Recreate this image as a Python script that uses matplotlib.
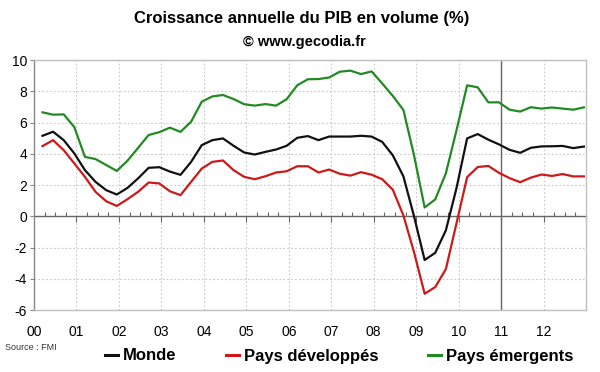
import matplotlib
matplotlib.use("Agg")
import matplotlib.pyplot as plt
from matplotlib.lines import Line2D
import numpy as np

plt.rcParams['font.family'] = ['Liberation Sans', 'DejaVu Sans']

# Quarterly data, 2000Q1 .. 2012Q4
years = list(range(2000, 2013))
year_labels = ["00", "01", "02", "03", "04", "05", "06", "07", "08", "09", "10", "11", "12"]

monde = [5.15, 5.41, 4.87, 4.02, 2.95, 2.2, 1.67, 1.39, 1.81, 2.42, 3.1, 3.14,
         2.86, 2.65, 3.48, 4.55, 4.87, 4.98, 4.51, 4.08, 3.95, 4.12, 4.27, 4.51,
         5.02, 5.13, 4.87, 5.1, 5.1, 5.1, 5.15, 5.1, 4.76, 3.9, 2.55, 0.0,
         -2.8, -2.34, -0.9, 1.8, 4.98, 5.26, 4.9, 4.6, 4.25, 4.06, 4.38, 4.47,
         4.48, 4.5, 4.36, 4.46]
developpes = [4.49, 4.87, 4.23, 3.38, 2.52, 1.56, 0.96, 0.66, 1.09, 1.56, 2.16, 2.1,
              1.6, 1.35, 2.2, 3.05, 3.48, 3.57, 2.95, 2.52, 2.37, 2.56, 2.8, 2.88,
              3.2, 3.2, 2.8, 2.99, 2.72, 2.6, 2.82, 2.66, 2.37, 1.7, 0.05, -2.3,
              -4.96, -4.53, -3.38, -0.45, 2.5, 3.15, 3.22, 2.78, 2.44, 2.18, 2.47, 2.67,
              2.58, 2.7, 2.55, 2.55]
emergents = [6.65, 6.5, 6.52, 5.7, 3.8, 3.66, 3.28, 2.9, 3.55, 4.37, 5.2, 5.38,
             5.67, 5.4, 6.05, 7.33, 7.67, 7.76, 7.5, 7.17, 7.08, 7.18, 7.08, 7.49,
             8.38, 8.77, 8.78, 8.88, 9.25, 9.32, 9.1, 9.27, 8.5, 7.7, 6.8, 3.9,
             0.56, 1.08, 2.75, 5.5, 8.38, 8.25, 7.29, 7.29, 6.82, 6.7, 6.98, 6.89,
             6.96, 6.89, 6.82, 6.97]

n = len(monde)
x = 2000 + 0.25 * (np.arange(n) + 1) - 0.05

fig = plt.figure(figsize=(6.0, 3.72), dpi=100)
ax = fig.add_axes([34/600, 1 - 310/372, (586-34)/600, (310-60)/372])

ax.set_xlim(2000, 2013)
ax.set_ylim(-6, 10)

# grid
for yv in range(-6, 11, 2):
    ax.axhline(yv, color='#c8c8c8', lw=0.8, ls=(0, (1.5, 2)), zorder=0)
for yr in years[1:]:
    ax.axvline(yr, color='#c8c8c8', lw=0.8, ls=(0, (1.5, 2)), zorder=0)
ax.axvline(2011, color='#666666', lw=1.0, zorder=1)

c_m, c_d, c_e = '#111111', '#cc1a1a', '#228a22'
ax.plot(x, emergents, color=c_e, lw=1.6, zorder=3)
ax.plot(x, monde, color=c_m, lw=1.6, zorder=3)
ax.plot(x, developpes, color=c_d, lw=1.6, zorder=3)

for s in ['top', 'right', 'bottom']:
    ax.spines[s].set_color('#c0c0c0')
    ax.spines[s].set_linewidth(1.0)
ax.spines['left'].set_color('#888888')
ax.spines['left'].set_linewidth(1.0)

ax.set_yticks(range(-6, 11, 2))
ax.set_yticklabels([str(v) for v in range(-6, 11, 2)])
ax.tick_params(axis='y', length=3, width=0.8, color='#888888', pad=2, labelsize=10)

ax.set_xticks(years)
ax.set_xticklabels(year_labels)
ax.tick_params(axis='x', length=0, pad=11, labelsize=10)

# zero axis with year and quarter ticks
sec = ax.secondary_xaxis(6/16)
sec.set_xticks(years[1:] + [2013])
sec.set_xticklabels([])
sec.set_xticks(np.arange(2000.25, 2013, 0.25), minor=True)
sec.tick_params(axis='x', which='major', direction='out', length=4, width=0.8, color='#666666')
sec.tick_params(axis='x', which='minor', direction='in', length=3, width=0.8, color='#666666')
sec.spines['bottom'].set_color('#666666')
sec.spines['bottom'].set_linewidth(1.0)

fig.text(0.502, 1 - 18/372, "Croissance annuelle du PIB en volume (%)", ha='center', va='center',
         fontsize=12, fontweight='bold')
fig.text(0.507, 1 - 42/372, "\u00a9 www.gecodia.fr", ha='center', va='center',
         fontsize=10.5, fontweight='bold')
fig.text(5/600, 1 - 348/372, "Source : FMI", ha='left', va='center', fontsize=6.5, color='#333333')

handles = [Line2D([], [], color=c_m, lw=2.2), Line2D([], [], color=c_d, lw=2.2),
           Line2D([], [], color=c_e, lw=2.2)]
leg = fig.legend(handles, ["Monde", "Pays développés", "Pays émergents"], ncol=3,
                 loc='center', bbox_to_anchor=(339/600, 1 - 356/372), frameon=False,
                 prop={'weight': 'bold', 'size': 12}, handlelength=0.8, handletextpad=0.25,
                 columnspacing=3.0, borderaxespad=0, borderpad=0)

fig.savefig("out.png", dpi=100)
